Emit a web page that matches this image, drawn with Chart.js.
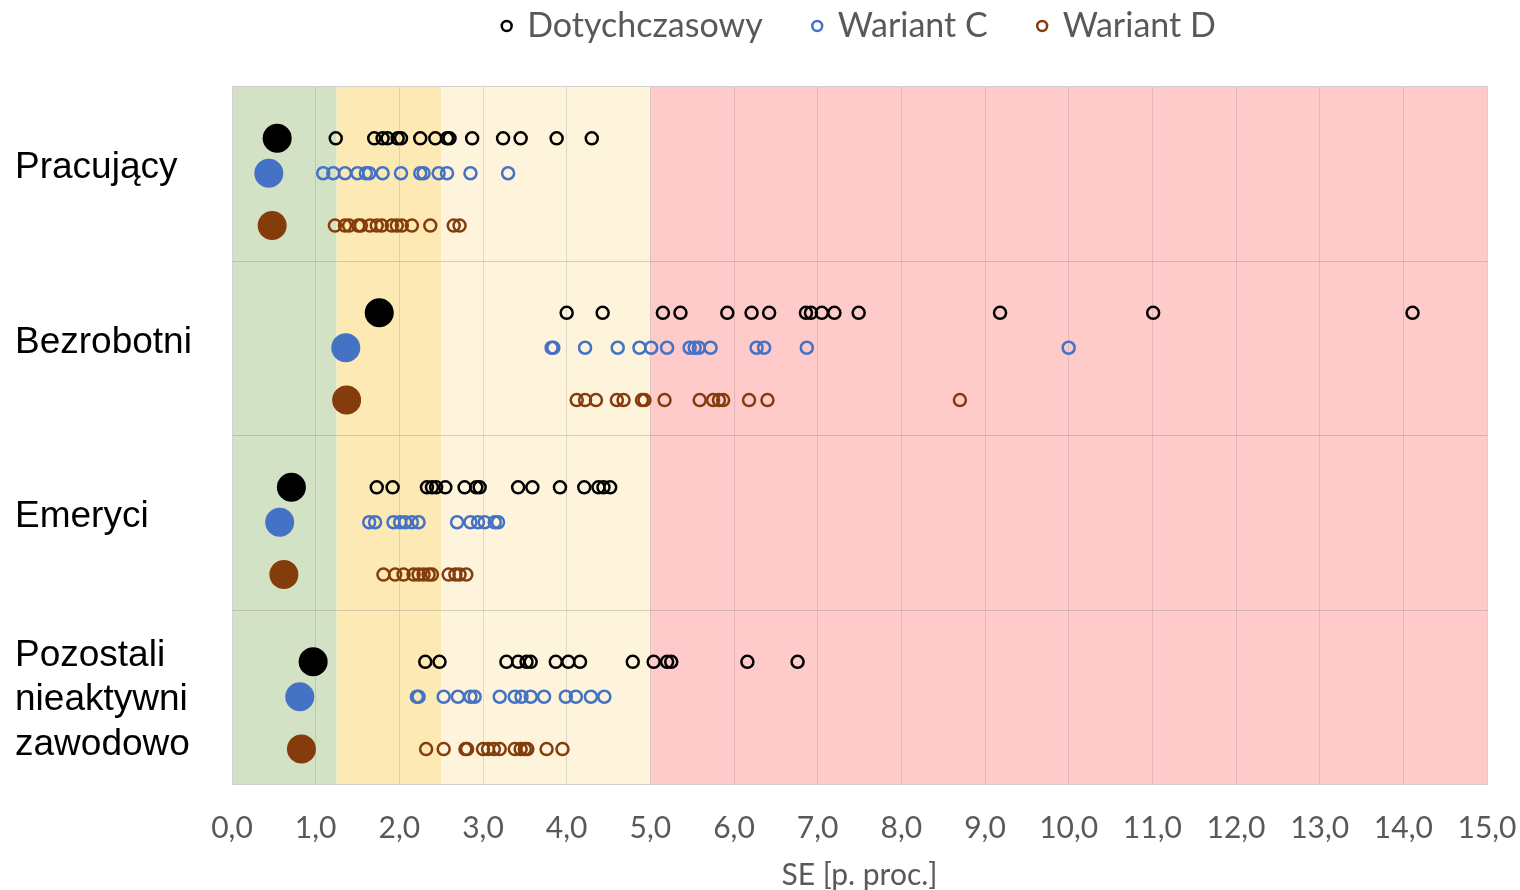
<!DOCTYPE html>
<html>
<head>
<meta charset="utf-8">
<script src="https://cdn.jsdelivr.net/npm/chart.js"></script>
<style>
  html, body { margin: 0; background: #fff; }
  #wrap { width: 1520px; height: 890px; }
</style>
</head>
<body>
<div id="wrap"><canvas id="wykres"></canvas></div>
<script>
// kategorie i serie
const kategorie = ['Pracujący', 'Bezrobotni', 'Emeryci', ['Pozostali', 'nieaktywni', 'zawodowo']];
const serie = ['Dotychczasowy', 'Wariant C', 'Wariant D'];

// duże kropki (ogółem dla grupy)
const ogolemDot = [0.54, 1.76, 0.71, 0.97];
const ogolemC = [0.44, 1.36, 0.57, 0.81];
const ogolemD = [0.48, 1.37, 0.62, 0.83];

// małe kółka, po jednej tablicy na grupę
const dotychczasowy = [
  [1.24, 1.70, 1.80, 1.86, 1.98, 2.02, 2.25, 2.43, 2.57, 2.60, 2.87, 3.24, 3.45, 3.88, 4.30],
  [4.00, 4.43, 5.15, 5.36, 5.92, 6.21, 6.42, 6.86, 6.92, 7.05, 7.20, 7.49, 9.18, 11.01, 14.11],
  [1.73, 1.92, 2.33, 2.39, 2.44, 2.55, 2.78, 2.92, 2.96, 3.42, 3.59, 3.92, 4.21, 4.38, 4.44, 4.52],
  [2.31, 2.48, 3.28, 3.42, 3.52, 3.57, 3.87, 4.02, 4.16, 4.79, 5.04, 5.20, 5.25, 6.16, 6.76]
];
const wariantC = [
  [1.09, 1.21, 1.35, 1.50, 1.60, 1.64, 1.80, 2.02, 2.25, 2.29, 2.47, 2.57, 2.85, 3.30],
  [3.82, 3.84, 4.22, 4.61, 4.87, 5.01, 5.20, 5.47, 5.53, 5.58, 5.72, 6.27, 6.36, 6.87, 10.00],
  [1.64, 1.71, 1.93, 2.01, 2.07, 2.15, 2.23, 2.69, 2.85, 2.94, 3.02, 3.14, 3.18],
  [2.21, 2.23, 2.53, 2.70, 2.85, 2.90, 3.20, 3.38, 3.46, 3.57, 3.73, 3.99, 4.11, 4.29, 4.45]
];
const wariantD = [
  [1.23, 1.35, 1.40, 1.51, 1.54, 1.65, 1.73, 1.79, 1.91, 1.97, 2.03, 2.15, 2.37, 2.65, 2.72],
  [4.12, 4.22, 4.35, 4.60, 4.68, 4.90, 4.93, 5.17, 5.59, 5.75, 5.82, 5.87, 6.18, 6.40, 8.70],
  [1.81, 1.95, 2.05, 2.17, 2.23, 2.29, 2.35, 2.39, 2.59, 2.67, 2.72, 2.80],
  [2.32, 2.53, 2.79, 2.81, 3.00, 3.06, 3.13, 3.20, 3.38, 3.45, 3.50, 3.53, 3.76, 3.95]
];

// oś X i progi stref tła
const xTicks = [0, 1, 2, 3, 4, 5, 6, 7, 8, 9, 10, 11, 12, 13, 14, 15];
const progi = [1.25, 2.5, 5, 15];

const koloryStref = ['#d3e2c5', '#fde9b4', '#fef4dc', '#ffcaca'];
const kolorySerii = ['#000000', '#4472c4', '#843c0c'];
const wiersz = [0.3, 0.5, 0.8];   // położenie serii w obrębie grupy
const etykietaY = [0.47, 0.47, 0.47, 0.52];

function punkty(tab, s) {
  const out = [];
  tab.forEach((grupa, g) => grupa.forEach(v => out.push({ x: v, y: g + wiersz[s] })));
  return out;
}
function kropki(tab, s) {
  return tab.map((v, g) => ({ x: v, y: g + wiersz[s] }));
}

const tlo = {
  id: 'tlo',
  beforeDraw(chart) {
    const { ctx, chartArea: a, scales: { x } } = chart;
    let od = 0;
    ctx.save();
    progi.forEach((p, i) => {
      const x1 = x.getPixelForValue(od), x2 = x.getPixelForValue(p);
      ctx.fillStyle = koloryStref[i];
      ctx.fillRect(x1, a.top, x2 - x1, a.bottom - a.top);
      od = p;
    });
    ctx.restore();
  },
  beforeDatasetsDraw(chart) {
    const { ctx, chartArea: a, scales: { y } } = chart;
    ctx.save();
    ctx.strokeStyle = 'rgba(120,120,120,0.3)';
    ctx.lineWidth = 1;
    for (let g = 1; g < kategorie.length; g++) {
      const py = Math.round(y.getPixelForValue(g)) + 0.5;
      ctx.beginPath();
      ctx.moveTo(a.left, py);
      ctx.lineTo(a.right, py);
      ctx.stroke();
    }
    ctx.strokeStyle = '#d0d0d0';
    ctx.strokeRect(Math.round(a.left) + 0.5, Math.round(a.top) + 0.5, Math.round(a.right - a.left), Math.round(a.bottom - a.top));
    ctx.restore();
  }
};

const male = [dotychczasowy, wariantC, wariantD].map((tab, s) => ({
  label: serie[s],
  data: punkty(tab, s),
  xAxisID: 'x',
  yAxisID: 'y',
  pointStyle: 'circle',
  pointRadius: 6,
  pointBorderWidth: 2.5,
  borderWidth: 2.5,
  borderColor: kolorySerii[s],
  pointBorderColor: kolorySerii[s],
  backgroundColor: 'rgba(255,255,255,0)',
  pointBackgroundColor: 'rgba(255,255,255,0)'
}));
const duze = [ogolemDot, ogolemC, ogolemD].map((tab, s) => ({
  label: serie[s] + ' ogółem',
  data: kropki(tab, s),
  xAxisID: 'x',
  yAxisID: 'y',
  pointRadius: 14.5,
  pointBorderWidth: 0,
  borderWidth: 0,
  backgroundColor: kolorySerii[s],
  pointBackgroundColor: kolorySerii[s]
}));

const font = 'Lato, "Open Sans", sans-serif';

new Chart(document.getElementById('wykres'), {
  type: 'scatter',
  data: { datasets: [...male, ...duze] },
  plugins: [tlo],
  options: {
    responsive: true,
    maintainAspectRatio: false,
    animation: false,
    layout: { padding: { top: -42, left: 15, right: 33, bottom: 0 } },
    plugins: {
      tooltip: { enabled: false },
      legend: {
        position: 'top',
        fullSize: false,
        labels: {
          usePointStyle: true,
          boxWidth: 7,
          boxHeight: 7,
          padding: 51,
          color: '#595959',
          font: { family: font, size: 34 },
          filter: item => item.datasetIndex < 3
        }
      }
    },
    scales: {
      x: {
        type: 'linear',
        min: 0,
        max: 15,
        afterBuildTicks(s) { s.ticks = xTicks.map(v => ({ value: v })); },
        afterFit(s) { s.height = 106; s.paddingLeft = 0; s.paddingRight = 0; },
        grid: { color: 'rgba(120,120,120,0.22)', drawTicks: false },
        border: { display: false },
        ticks: {
          padding: 26,
          color: '#595959',
          font: { family: font, size: 30 },
          callback: v => v.toFixed(1).replace('.', ',')
        },
        title: {
          display: true,
          text: 'SE [p. proc.]',
          color: '#595959',
          font: { family: font, size: 30 },
          padding: { top: 0, bottom: -3 }
        }
      },
      xTop: {
        type: 'linear',
        position: 'top',
        display: true,
        min: 0,
        max: 15,
        grid: { display: false },
        border: { display: false },
        ticks: { display: false },
        afterFit(s) { s.height = 33; }
      },
      y: {
        type: 'linear',
        min: 0,
        max: 4,
        reverse: true,
        afterBuildTicks(s) { s.ticks = kategorie.map((k, g) => ({ value: g + etykietaY[g] })); },
        afterFit(s) { s.width = 217; },
        grid: { display: false },
        border: { display: false },
        ticks: {
          crossAlign: 'far',
          color: '#000000',
          font: { family: 'Liberation Sans, Arial, sans-serif', size: 37 },
          callback: (v, i) => kategorie[i]
        }
      }
    }
  }
});
</script>
</body>
</html>
